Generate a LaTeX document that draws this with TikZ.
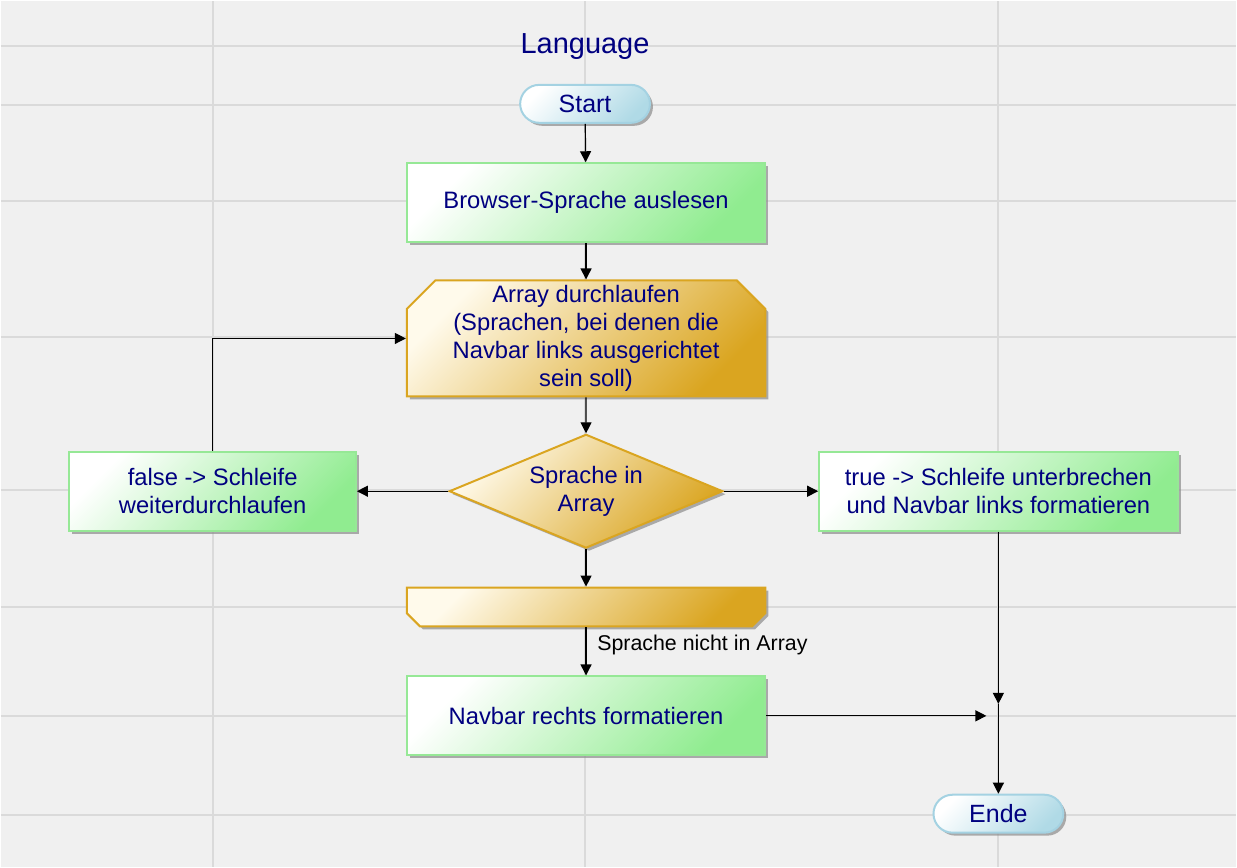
\documentclass[tikz,border=0pt]{standalone}
\usepackage{fontspec}
\setmainfont{Liberation Sans}
\usepackage{tikz}
\usetikzlibrary{arrows.meta,positioning,shapes.geometric,shapes.misc,shadows}
\definecolor{bgcol}{RGB}{240,240,240}
\definecolor{gridcol}{RGB}{218,218,218}
\definecolor{txtcol}{RGB}{0,0,128}
\definecolor{greenfill}{RGB}{144,236,144}
\definecolor{greenline}{RGB}{150,232,150}
\definecolor{goldfill}{RGB}{218,165,32}
\definecolor{goldlight}{RGB}{255,250,235}
\definecolor{bluefill}{RGB}{176,218,230}
\definecolor{blueline}{RGB}{164,210,226}

\begin{document}
\begin{tikzpicture}[x=0.5pt,y=-0.5pt,
    flow/.style={-{Triangle[length=5.5pt,width=5.5pt]},line width=0.6pt},
    shadowed/.style={drop shadow={shadow xshift=1.5pt,shadow yshift=-1.5pt,fill=black!45,opacity=0.7}},
    boxtext/.style={align=center,text=txtcol,font=\fontsize{11.9}{14}\selectfont},
    proc/.style={rectangle,draw=greenline,line width=1pt,top color=white,bottom color=greenfill,
        shading angle=45,minimum width=179.5pt,minimum height=39.5pt,boxtext,shadowed},
    goldbox/.style={draw=goldfill,line width=1pt,top color=goldlight,bottom color=goldfill,
        shading angle=45,boxtext,shadowed},
    loopbegin/.style={chamfered rectangle,chamfered rectangle corners={north west,north east},
        chamfered rectangle xsep=9.5pt,chamfered rectangle ysep=4.75pt,inner ysep=-2.25pt,
        minimum width=179.5pt,goldbox},
    loopend/.style={chamfered rectangle,chamfered rectangle corners={south west,south east},
        chamfered rectangle xsep=9.5pt,minimum width=179.5pt,minimum height=19.5pt,goldbox},
    decision/.style={diamond,aspect=2.4,inner sep=0pt,minimum width=137pt,minimum height=57pt,goldbox},
    term/.style={rectangle,rounded corners=9.5pt,draw=blueline,line width=1pt,top color=white,
        bottom color=bluefill,shading angle=45,minimum width=65pt,minimum height=19pt,
        text=txtcol,font=\fontsize{12.5}{15}\selectfont,shadowed},
    ]
    % background and grid
    \path [fill=bgcol] (0,0) rectangle (1237,867);
    \foreach \gy in {45,104,200,337,490,607,716,815}
        \path [draw=gridcol,line width=1pt] (0,\gy) -- (1237,\gy);
    \foreach \gx in {212,585,999}
        \path [draw=gridcol,line width=1pt] (\gx,0) -- (\gx,867);

    \node (title) at (585,46) [text=txtcol,font=\fontsize{14.5}{16}\selectfont] {Language};
    \node (start) at (585,103) [term] {Start};
    \node (browser) at (586,202) [proc] {Browser-Sprache auslesen};
    \node (arrayloop) at (586,338) [loopbegin] {Array durchlaufen\\(Sprachen, bei denen die\\Navbar links ausgerichtet\\sein soll)};
    \node (check) at (586,491) [decision] {Sprache in\\Array};
    \node (falsebox) at (212,491) [proc,minimum width=143.5pt] {false -> Schleife\\weiterdurchlaufen};
    \node (truebox) at (999,491) [proc] {true -> Schleife unterbrechen\\und Navbar links formatieren};
    \node (arrayend) at (586,607) [loopend] {};
    \node (navright) at (586,716) [proc] {Navbar rechts formatieren};
    \node (ende) at (999,814) [term] {Ende};
    \coordinate (join) at (999,716);

    \path [draw,flow] (start) -- (browser);
    \path [draw,flow] (browser) -- (arrayloop);
    \path [draw,flow] (arrayloop) -- (check);
    \path [draw,flow] (check) -- (arrayend);
    \path [draw,flow] (arrayend) -- node (notin) [anchor=west,xshift=2pt,yshift=3pt,font=\fontsize{10.7}{12}\selectfont] {Sprache nicht in Array} (navright);
    \path [draw,flow] (check.west) -- (falsebox.east);
    \path [draw,flow] (check.east) -- (truebox.west);
    \path [draw,flow] (falsebox.north) |- (arrayloop.west);
    \path [draw,flow,shorten >=6pt] (truebox.south) -- (join);
    \path [draw,flow,shorten >=6pt] (navright.east) -- (join);
    \path [draw,flow] ([yshift=6pt]join) -- (ende.north);
\end{tikzpicture}
\end{document}
